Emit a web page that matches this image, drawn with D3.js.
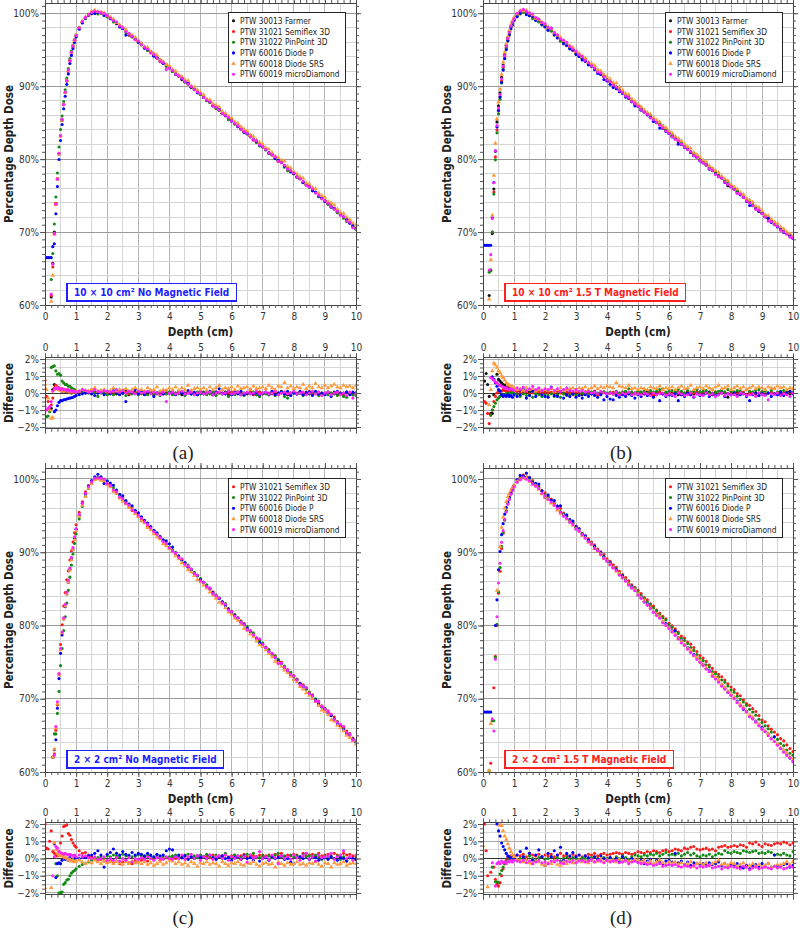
<!DOCTYPE html>
<html><head><meta charset="utf-8">
<script src="https://cdn.jsdelivr.net/npm/d3@7"></script>
<style>body{margin:0;background:#fff} svg{display:block}</style>
</head><body><svg id="c" width="800" height="933"></svg>
<script>
// ---------------- DATA ----------------
const depth = [0,.05,.1,.15,.2,.25,.3,.35,.4,.45,.5,.55,.6,.65,.7,.75,.8,.85,.9,.95,1,
1.1,1.2,1.3,1.4,1.5,1.6,1.7,1.8,1.9,2,
2.1,2.2,2.3,2.4,2.5,2.6,2.7,2.8,2.9,3,
3.1,3.2,3.3,3.4,3.5,3.6,3.7,3.8,3.9,4,
4.1,4.2,4.3,4.4,4.5,4.6,4.7,4.8,4.9,5,
5.1,5.2,5.3,5.4,5.5,5.6,5.7,5.8,5.9,6,
6.1,6.2,6.3,6.4,6.5,6.6,6.7,6.8,6.9,7,
7.1,7.2,7.3,7.4,7.5,7.6,7.7,7.8,7.9,8,
8.1,8.2,8.3,8.4,8.5,8.6,8.7,8.8,8.9,9,
9.1,9.2,9.3,9.4,9.5,9.6,9.7,9.8,9.9,10];

const detectorNames = ["PTW 30013 Farmer","PTW 31021 Semiflex 3D","PTW 31022 PinPoint 3D","PTW 60016 Diode P","PTW 60018 Diode SRS","PTW 60019 microDiamond"];
const xTicks = [0,1,2,3,4,5,6,7,8,9,10];
const yTicksPdd = [60,70,80,90,100];
const yTicksDiff = [-2,-1,0,1,2];
const panelTitles = ["10 × 10 cm² No Magnetic Field","10 × 10 cm² 1.5 T Magnetic Field","2 × 2 cm² No Magnetic Field","2 × 2 cm² 1.5 T Magnetic Field"];
const panelLetters = ["(a)","(b)","(c)","(d)"];

// reference PDD (%) per panel
const pddBaseA = [55,56,57,58.5,62,65.5,69.5,73.5,77,80.5,83,85.2,87.3,89,90.6,92,93.4,94.5,95.4,96.2,96.9,
97.9,98.7,99.3,99.7,100,100.1,100.1,100,99.8,99.6,
99.3,98.9,98.6,98.2,97.9,97.5,97.1,96.8,96.4,96.1,
95.7,95.3,95,94.6,94.3,93.9,93.5,93.2,92.8,92.5,
92.1,91.7,91.4,91,90.7,90.3,89.9,89.6,89.2,88.9,
88.5,88.1,87.8,87.4,87.1,86.7,86.3,86,85.6,85.3,
84.9,84.5,84.2,83.8,83.5,83.1,82.7,82.4,82,81.7,
81.3,80.9,80.6,80.2,79.8,79.5,79.1,78.7,78.4,78,
77.6,77.3,76.9,76.5,76.2,75.8,75.4,75,74.7,74.3,
73.9,73.6,73.2,72.8,72.4,72.1,71.7,71.3,70.9,70.5];
const pddBaseB = [56,57,58,59,61.5,66,71,76,80.5,84,86.5,88.4,90.6,92.4,93.9,95.2,96.3,97.2,98,98.6,99.1,
99.7,100.1,100.2,100.1,99.8,99.5,99.2,98.9,98.6,98.3,
97.9,97.6,97.2,96.8,96.4,96.1,95.7,95.3,95,94.6,
94.2,93.9,93.5,93.1,92.8,92.4,92,91.7,91.3,90.9,
90.6,90.2,89.8,89.5,89.1,88.7,88.4,88,87.6,87.3,
86.9,86.5,86.2,85.8,85.4,85.1,84.7,84.3,84,83.6,
83.2,82.9,82.5,82.1,81.8,81.4,81,80.7,80.3,79.9,
79.6,79.2,78.8,78.5,78.1,77.7,77.4,77,76.6,76.3,
75.9,75.5,75.2,74.8,74.4,74.1,73.7,73.3,73,72.6,
72.2,71.9,71.5,71.1,70.8,70.4,70.1,69.8,69.5,69.2];
const pddBaseC = [50,51,52,54,56,59,62.2,65.5,69,73,76.5,78.8,80.8,82.6,84.3,86,87.6,89.1,90.5,91.9,93.1,
95,96.6,97.9,98.9,99.6,100,100.2,100.1,99.9,99.5,
99.1,98.6,98.2,97.7,97.3,96.8,96.4,96,95.5,95.1,
94.6,94.2,93.7,93.3,92.9,92.4,92,91.5,91.1,90.6,
90.2,89.8,89.3,88.9,88.4,88,87.5,87.1,86.7,86.2,
85.8,85.3,84.9,84.4,84,83.6,83.1,82.7,82.2,81.8,
81.3,80.9,80.5,80,79.6,79.1,78.7,78.2,77.8,77.4,
76.9,76.5,76,75.6,75.1,74.7,74.3,73.8,73.4,72.9,
72.5,72,71.6,71.2,70.7,70.3,69.8,69.4,68.9,68.5,
68.1,67.6,67.2,66.7,66.3,65.8,65.4,65,64.5,64.1];
const pddBaseD = [50,51,52,54,57,62,67.5,72,77,81.5,86,88.8,91.5,93.2,94.7,95.8,96.7,97.4,98,98.6,99,
99.7,100.1,100.3,100.2,99.9,99.6,99.2,98.8,98.3,97.9,
97.5,97,96.6,96.1,95.7,95.2,94.8,94.3,93.9,93.4,
93,92.5,92.1,91.6,91.2,90.7,90.3,89.8,89.4,88.9,
88.5,88,87.6,87.1,86.7,86.2,85.8,85.3,84.9,84.4,
84,83.5,83.1,82.6,82.2,81.7,81.3,80.8,80.4,79.9,
79.5,79,78.6,78.1,77.7,77.2,76.8,76.3,75.9,75.4,
75,74.5,74.1,73.6,73.2,72.7,72.3,71.8,71.4,70.9,
70.5,70,69.6,69.1,68.7,68.2,67.8,67.3,66.9,66.4,
66,65.5,65.1,64.6,64.2,63.7,63.3,62.8,62.4,61.9];

// detector difference (%) from reference; null = not on the picture
const diffA_30013 = [null,null,null,null,-.9,.2,.5,.4,.3,.2,.2,.1,.15,.1,.1,.05,.1,0,.05,.1,0,
.1,.05,.1,0,.15,.1,0,.05,.1,-.05,
0,.1,-.05,.05,0,.1,-.1,0,.05,-.05,
.05,-.05,0,.1,-.1,0,.05,-.05,0,.05,
-.05,0,.05,-.1,0,.05,-.05,0,-.1,0,
.05,-.05,0,-.1,.05,0,-.05,.05,-.1,0,
-.05,.05,-.1,0,-.05,.05,0,-.1,.05,-.05,
0,-.1,.05,-.05,0,.1,-.05,-.1,0,.05,
-.05,0,-.1,.05,-.05,0,.05,-.1,0,-.05,
0,-.05,.05,-.1,0,-.05,.05,0,-.1,0];
const diffA_31021 = [.75,-.2,-.5,-1,-.7,-.3,.3,.45,.35,.3,.2,.25,.2,.15,.2,.1,.15,.1,.05,.1,.05,
.1,.15,.05,.1,.2,.1,.05,.15,.1,0,
.1,.05,.15,0,.1,.05,-.05,.1,0,.05,
0,.05,-.05,.05,0,-.05,.05,0,-.05,0,
.05,-.05,0,.05,-.1,0,.05,-.05,0,.05,
0,-.05,.05,0,-.1,.05,0,-.05,0,.05,
-.05,0,.05,-.05,0,.05,-.1,0,.05,0,
.05,0,-.05,.05,-.1,0,.05,0,-.05,.05,
0,.05,-.05,0,.1,-.05,0,.05,-.1,0,
.05,0,-.05,.05,0,-.1,.05,0,-.05,0];
const diffA_31022 = [-1.4,-1.4,-1.35,-1.1,1.5,1.55,1.6,1.3,1.1,1.15,1.05,.7,.6,.5,.5,.4,.4,.3,.25,.2,.15,
.1,.05,0,.1,-.05,.05,-.2,0,.05,-.1,
0,-.1,.05,-.05,0,-.15,.05,-.05,0,-.1,
-.05,0,-.1,.05,-.05,0,-.15,0,-.05,.05,
-.1,0,-.05,.05,-.15,0,-.05,-.1,.05,-.05,
0,-.1,-.05,.05,-.15,0,-.05,0,-.2,-.05,
-.1,.05,-.05,-.15,0,-.05,.05,-.1,-.2,0,
-.05,-.1,0,-.15,-.05,.05,-.2,-.3,-.1,0,
-.05,0,-.15,-.05,.05,-.1,0,-.15,-.05,0,
-.1,0,-.05,-.15,0,-.2,-.25,-.05,-.1,-.15];
const diffA_60016 = [11.5,10.5,9.5,8,4.5,2.5,-1.1,-1,-.75,-.55,-.45,-.45,-.4,-.38,-.35,-.32,-.3,-.28,-.25,-.2,-.15,
-.1,-.05,0,.1,-.05,-.15,0,.05,-.1,.1,
-.05,.15,.05,-.1,0,-.5,.1,.05,.2,-.05,
.1,-.1,.05,.15,-.2,0,.1,-.05,.15,0,
.05,-.1,.1,0,-.05,.15,-.05,.05,-.1,.1,
-.05,.05,.1,-.1,.05,.25,0,-.05,.1,-.1,
.05,-.05,.1,-.1,0,.2,-.05,.05,-.1,0,
.05,-.05,.1,-.1,0,.05,-.05,.1,-.15,0,
-.05,.1,-.1,0,.05,-.15,.1,-.05,0,-.1,
.05,-.2,0,.1,-.05,0,.05,-.1,.05,0];
const diffA_60018 = [.5,.2,-.3,-1,-1.5,-1.45,.2,.3,.25,.2,.15,.1,.2,.1,.15,.1,.05,.1,.1,.05,.1,
.1,.2,.15,.1,.2,.3,.1,.15,.2,.1,
.15,.3,.1,.2,.15,.25,.1,.2,.3,.15,
.2,.1,.3,.15,.2,.35,.1,.2,.15,.3,
.2,.35,.15,.3,.2,.45,.15,.25,.3,.2,
.3,.15,.35,.2,.3,.45,.2,.3,.25,.35,
.2,.4,.25,.3,.35,.2,.4,.25,.3,.35,
.25,.45,.3,.2,.4,.35,.6,.3,.4,.25,
.35,.3,.5,.25,.4,.3,.55,.35,.3,.45,
.3,.4,.5,.35,.3,.45,.35,.4,.3,.45];
const diffA_60019 = [-.8,-1,-.9,-.8,-.5,.1,.25,.3,.25,.3,.2,.25,.2,.2,.15,.2,.1,.15,.1,.1,.05,
.1,.2,.15,.05,.1,.2,.1,.05,.15,.1,
.05,.1,.2,.05,.15,0,.1,.05,-.05,.1,
0,.05,.1,-.05,.05,0,-.1,.05,-.5,0,
.05,-.05,0,.1,-.05,0,.05,-.1,0,.05,
-.05,0,.05,-.1,0,.05,-.05,0,.1,-.05,
0,.05,-.1,0,.05,-.05,0,.1,-.05,0,
.05,-.05,0,.1,-.1,0,.05,-.05,0,.1,
-.05,0,.05,-.1,0,.1,-.05,.05,-.15,0,
.05,-.1,0,.05,-.1,0,-.15,.05,-.3,-.05];

const diffB_30013 = [1,.7,1.15,.5,-.2,-1.2,-1.2,-.1,.6,1.1,.8,.7,.6,.5,.45,.4,.35,.3,.25,.2,.15,
.1,.15,.2,.1,.05,.15,.1,0,.1,.05,
.05,0,.1,-.05,.05,0,-.1,.05,0,-.05,
0,-.1,.05,0,-.05,.1,-.1,0,.05,-.05,
0,-.05,.05,-.1,0,.05,-.05,-.1,0,.05,
-.05,0,.05,-.1,-.2,0,.05,-.05,0,-.1,
0,.05,-.1,0,-.05,.05,-.1,-.05,0,.05,
-.05,0,.05,-.1,0,-.05,.05,0,-.25,-.05,
0,.05,-.05,0,-.1,.05,-.05,0,-.15,.05,
-.1,0,.05,-.05,0,-.1,0,.05,-.05,0];
const diffB_31021 = [null,-.5,-.6,-1.2,-1.8,-1.3,-1,-.5,-.2,0,.1,.15,.1,.2,.15,.1,.15,.1,.1,.05,.1,
.1,0,.05,.1,-.05,0,.1,.05,-.05,.05,
0,.05,-.05,.1,0,-.05,.05,0,-.1,.05,
-.05,0,.05,-.05,0,.05,-.1,0,.05,-.05,
0,.05,-.05,0,.05,-.1,0,.05,-.05,0,
.05,-.05,0,.05,-.1,0,.05,-.05,0,.05,
-.05,0,.05,-.1,0,.05,-.05,0,.05,-.05,
0,.05,-.05,0,.05,-.1,0,.05,-.05,0,
.05,-.05,0,.05,-.1,0,.05,-.05,0,.05,
-.05,0,.05,-.05,0,.05,-.05,0,.05,0];
const diffB_31022 = [null,null,null,null,3,-1.3,-1,-.8,-.6,-.4,-.3,-.2,-.15,-.1,-.1,-.05,0,-.05,0,.05,0,
-.1,-.2,-.05,-.15,-.1,-.25,-.05,-.1,-.2,-.1,
-.15,-.05,-.2,-.1,-.25,-.05,-.15,-.1,-.05,-.15,
-.1,0,-.05,-.1,.05,-.05,0,-.1,.05,0,
.05,-.05,.1,0,.05,.1,.25,.05,0,.1,
.05,.1,0,.15,.05,.1,.2,.25,.05,.1,
.15,.05,.2,.1,0,.15,.05,.1,.2,.05,
.1,.15,0,.2,.05,.1,.15,.05,.2,.1,
.05,.15,.1,0,.2,.1,.05,.15,.2,.05,
.1,0,.15,.25,.05,.1,.15,0,.1,.05];
const diffB_60016 = [12.2,11.2,10.2,9.2,6.7,2.2,.95,.8,.6,.4,.2,.1,-.1,-.2,-.15,-.2,-.1,-.2,-.15,-.25,-.1,
-.2,-.1,.2,-.3,-.15,.1,-.2,.25,-.1,-.2,
-.25,.35,-.15,-.2,.1,-.3,-.1,-.2,-.05,-.25,
-.15,-.3,-.1,-.2,-.05,-.15,-.25,-.1,-.4,-.2,
-.35,-.4,-.15,-.25,-.1,-.2,-.05,-.15,-.3,-.1,
-.2,-.05,-.15,-.1,-.25,-.1,-.45,-.05,-.2,-.1,
-.15,-.05,-.45,-.1,-.2,0,-.1,-.25,-.05,-.15,
-.1,0,-.2,-.05,-.15,-.1,0,-.2,-.05,-.1,
0,-.15,-.1,-.05,-.2,-.45,-.1,0,-.15,-.05,
-.1,0,-.2,-.05,-.1,.05,-.15,0,.1,-.05];
const diffB_60018 = [null,null,null,null,-.7,.2,1.3,1.75,1.65,1.5,1.3,1.2,1,.9,.75,.6,.5,.45,.4,.35,.3,
.2,.25,.15,.3,.2,.25,.1,.2,.15,.2,
.15,.25,.1,.2,.3,.15,.2,.25,.3,.15,
.3,.25,.35,.2,.3,.4,.25,.35,.3,.4,
.35,.3,.6,.4,.35,.3,.45,.25,.3,.2,
.3,.25,.2,.35,.3,.25,.4,.2,.3,.25,
.35,.2,.3,.4,.25,.3,.45,.2,.3,.35,
.25,.4,.3,.2,.35,.45,.25,.3,.4,.2,
.3,.4,.25,.35,.2,.3,.4,.25,.35,.3,
.2,.35,.3,.25,.4,.3,.35,.2,.3,.25];
const diffB_60019 = [null,null,null,null,3.3,.9,.85,.75,.65,.6,.5,.45,.4,.35,.3,.3,.25,.2,.25,.2,.15,
.3,.2,.35,.15,.25,.4,.2,.3,.15,.25,
.2,.3,.15,.25,.1,.2,.3,.15,.1,.2,
.1,.15,.05,.1,0,.05,-.05,.1,0,-.05,
0,-.05,.05,-.1,0,-.05,.05,-.1,0,-.05,
-.1,0,-.05,-.15,0,-.1,-.05,0,-.15,-.05,
-.1,-.2,0,-.05,-.15,-.1,0,-.2,-.05,-.1,
-.15,0,-.1,-.05,-.2,-.1,0,-.15,-.05,-.1,
-.1,-.2,0,-.05,-.15,-.1,-.05,-.2,0,-.1,
-.15,-.4,-.05,-.1,0,-.15,-.05,-.1,-.2,0];

const diffC_31021 = [2,.6,.55,1,1.6,.4,.3,.2,.15,.4,.9,1.3,1.85,1.9,1.95,1.45,1.35,1.1,.9,.75,.65,
.45,.3,.35,.2,.1,0,-.1,-.05,-.15,-.2,
-.1,-.25,-.15,-.3,-.2,-.1,-.25,-.3,-.15,-.2,
-.1,-.05,-.15,0,-.05,.05,-.1,0,.05,-.05,
.05,0,.1,.05,.15,0,.1,.05,.15,.1,
.1,.15,.05,.2,.1,.15,.05,.2,.1,.15,
.2,.1,.15,.25,.1,.2,.15,.05,.2,.1,
.15,.2,.1,.25,.15,.3,.1,.2,.15,.25,
.2,.1,.3,.15,.2,.25,.1,.3,.15,.2,
.25,.15,.3,.2,.1,.3,.2,.25,.15,.1];
const diffC_31022 = [0,null,null,null,null,3,3,-.3,-1,-2,-1.98,-1.95,-1.5,-1.4,-1.25,-1.2,-1,-.85,-.75,-.7,-.6,
-.45,-.35,-.3,-.2,-.1,0,.05,.1,0,.15,
.1,.2,.15,.1,.25,.15,.2,.1,.15,.2,
.15,.1,.2,.15,.05,.2,.1,.15,.05,.1,
.15,.2,.1,.05,.2,.25,.1,.15,.05,.2,
.1,.25,.15,.05,.2,.1,.15,.3,.05,.1,
.2,.15,.05,.1,.25,.15,.3,.1,.05,.2,
.1,.15,.05,.2,.3,.1,.15,.05,.2,.1,
.15,.05,.2,.1,.15,.05,.2,.1,-.05,.15,
.05,.1,0,.15,-.05,.1,-.1,.05,0,-.05];
const diffC_60016 = [null,null,null,null,null,3,.85,-1.1,-.3,-.25,-.3,-.1,.1,-.05,0,-.1,.05,-.05,-.1,0,.05,
0,.1,.05,.15,.2,.3,.45,.2,-.5,.25,
.35,.55,.3,.2,.4,.25,.15,.35,.2,.3,
.25,.15,.3,.2,.1,.25,.15,.2,.45,.55,
.5,.1,.2,.05,.15,-.05,.1,0,.15,.05,
.1,0,.2,.05,-.05,.1,.15,0,.05,-.1,
.05,.1,-.05,.15,0,.05,-.1,.1,-.15,0,
.05,-.1,.1,0,.05,.15,-.05,0,-.2,-.3,
.05,.1,0,.3,-.05,.1,.05,-.1,0,.05,
-.05,.1,0,-.1,.05,0,-.15,.05,0,-.05];
const diffC_60018 = [-1.7,null,null,null,-1.7,3,.9,.5,.3,.2,.15,.2,.1,.05,0,-.1,-.05,-.15,-.1,-.2,-.15,
-.1,-.2,-.3,-.15,-.25,-.1,-.2,-.3,-.15,-.25,
-.2,-.3,-.15,-.25,-.35,-.2,-.3,-.15,-.25,-.2,
-.3,-.2,-.35,-.25,-.4,-.3,-.2,-.35,-.25,-.1,
-.15,-.3,-.2,-.35,-.25,-.4,-.2,-.3,-.45,-.25,
-.3,-.2,-.35,-.25,-.3,-.45,-.2,-.3,-.4,-.25,
-.3,-.2,-.35,-.4,-.25,-.3,-.2,-.35,-.45,-.3,
-.25,-.35,-.3,-.5,-.2,-.3,-.4,-.25,-.35,-.3,
-.2,-.35,-.3,-.4,-.25,-.3,-.2,-.35,-.45,-.25,
-.3,-.5,-.25,-.35,-.3,-.2,-.4,-.3,-.25,-.3];
const diffC_60019 = [null,null,null,null,null,-1,.1,.7,.6,.4,.35,.3,.25,.3,.25,.2,.25,.2,.15,.2,.1,
.2,.1,.15,.05,0,.1,-.05,0,.1,-.1,
0,-.1,.05,-.15,0,-.1,.05,-.2,0,-.05,
.05,-.05,.1,0,-.1,.05,0,-.05,.1,0,
-.05,.1,0,.2,-.05,.1,.25,0,.15,-.1,
.1,0,.2,-.05,.1,.15,0,.2,-.1,.1,
0,.15,-.05,.1,-.2,.2,.05,.1,.4,0,
.1,-.05,.2,.05,-.3,.15,0,.1,-.05,.2,
.05,-.1,.15,.3,0,.1,-.15,.2,.05,.1,
.15,.3,-.05,.1,.2,.45,0,.1,-.1,.2];

const diffD_31021 = [null,2,.45,-1,null,-.8,null,-.5,-1.2,-1.5,-1.6,-1.4,-1,-.6,-.3,-.1,.05,.1,.15,.1,.15,
.2,.15,.25,.1,.3,.2,.15,.25,.1,.2,
.15,.25,.1,.2,.3,.15,.2,.1,.25,.15,
.2,.1,.15,.25,.2,.3,.15,.25,.3,.2,
.25,.3,.35,.3,.25,.35,.3,.25,.3,.4,
.35,.3,.4,.35,.45,.4,.35,.45,.5,.4,
.45,.55,.5,.45,.6,.55,.65,.7,.55,.5,
.55,.6,.5,.55,.45,.65,.7,.75,.65,.7,
.75,.7,.8,.75,.65,.9,.85,.95,.8,.7,
.85,.8,.75,.85,.9,.85,.95,.9,.8,.9];
const diffD_31022 = [null,null,null,null,3.2,null,-.5,-5,-1.35,-1.35,-1.4,-.9,-.7,-.5,-.3,-.2,-.1,0,.05,0,.1,
-.1,0,.1,-.05,.15,0,-.1,.05,.1,-.05,
0,.1,-.1,.05,-.15,0,.1,-.05,.05,0,
-.05,.05,0,-.1,.05,.1,0,-.05,.05,0,
.05,-.05,.1,0,.15,.05,-.05,.1,.2,.15,
.1,.2,.15,.25,.2,.3,.15,.25,.35,.2,
.25,.2,.3,.15,.25,.35,.2,.3,.15,.1,
.2,.15,.25,.1,.2,.3,.25,.45,.35,.3,
.4,.35,.3,.45,.4,.35,.4,.45,.3,.35,
.3,.4,.35,.2,.25,.2,.3,.2,.15,.4];
const diffD_60016 = [18.2,17.2,16.2,14.2,11.2,6.2,null,null,3,2,1.6,1.3,.9,.7,.5,.3,.15,.1,0,.1,.05,
.2,.4,.1,.6,.3,-.1,.2,.5,.1,-.4,
.3,.1,.45,.2,.65,-.1,.3,.15,.35,.1,
.2,-.1,.15,.05,-.1,.1,-.05,.15,0,-.1,
.05,-.1,0,-.15,.1,-.05,-.2,0,-.1,-.2,
-.1,-.3,-.15,-.05,-.35,-.1,-.2,-.3,-.15,-.1,
-.2,.3,-.25,-.15,-.35,-.2,-.4,-.25,-.3,-.35,
-.3,-.4,-.25,-.35,-.3,-.2,-.4,-.3,-.5,-.35,
-.4,-.3,-.5,-.55,-.4,-.6,-.45,-.35,-.5,-.3,
-.45,-.3,-.5,.2,-.4,-.45,-.35,-.3,-.5,-.4];
const diffD_60018 = [.75,null,null,-1.65,3.2,4.6,null,null,null,3.3,null,1.95,1.9,1.6,1.3,1.1,.85,.6,.4,.2,.1,
-.05,-.15,-.2,-.1,-.25,-.3,-.15,-.2,-.35,-.4,
-.25,-.3,-.15,-.35,-.4,-.2,-.3,-.15,-.25,-.2,
-.1,-.2,-.15,-.25,-.1,-.2,-.15,-.05,-.2,-.1,
-.15,-.1,-.2,-.05,-.15,-.1,-.2,-.15,-.05,-.1,
-.2,-.1,-.25,-.15,-.3,-.2,-.1,-.25,-.35,-.2,
-.3,-.2,-.35,-.25,-.4,-.3,-.2,-.45,-.3,-.25,
-.35,-.25,-.4,-.3,-.2,-.1,-.35,-.3,-.4,-.25,
-.3,-.45,-.35,-.25,-.5,-.4,-.3,-.45,-.35,-.5,
-.4,-.3,-.5,-.45,-.35,-.4,-.3,-.2,-.35,-.2];
const diffD_60019 = [null,null,null,null,null,null,-.25,-6.4,-1.6,-.3,-.2,-.3,-.15,-.25,-.2,-.3,-.15,-.2,-.1,-.2,-.1,
-.15,-.2,-.1,-.25,-.15,-.3,-.2,-.1,-.25,-.2,
-.3,-.15,-.2,-.1,-.25,-.3,-.15,-.2,-.1,-.25,
-.15,-.1,-.2,-.15,-.05,-.2,-.1,-.15,-.25,-.1,
-.2,-.15,-.1,-.25,-.2,-.15,-.3,-.2,-.15,-.25,
-.3,-.25,-.35,-.3,-.4,-.35,-.3,-.45,-.4,-.35,
-.4,-.35,-.45,-.5,-.4,-.45,-.5,-.4,-.55,-.45,
-.5,-.45,-.4,-.55,-.5,-.45,-.6,-.5,-.55,-.45,
-.5,-.55,-.6,-.45,-.5,-.65,-.55,-.5,-.6,-.55,
-.5,-.55,-.6,-.45,-.55,-.5,-.6,-.55,-.45,-.5];

// ---------------- DRAWING ----------------
const FONT = '"DejaVu Sans Condensed","DejaVu Sans",sans-serif';
const COLORS = ["#111111","#ff1a1a","#138a13","#0000ff","#ff9a3c","#ff22ff"];
const svg = d3.select("#c");

const panels = [
  {x0:45, x1:356, mt:3, mb:305, yTop:101.4, dt:357.3, db:428.7, base:pddBaseA,
   dets:[0,1,2,3,4,5], diffs:[diffA_30013,diffA_31021,diffA_31022,diffA_60016,diffA_60018,diffA_60019],
   tcolor:"#1f1fff", lx:183, ly:459},
  {x0:483, x1:793, mt:3, mb:305, yTop:101.4, dt:357.3, db:428.7, base:pddBaseB,
   dets:[0,1,2,3,4,5], diffs:[diffB_30013,diffB_31021,diffB_31022,diffB_60016,diffB_60018,diffB_60019],
   tcolor:"#ff2020", lx:621, ly:459},
  {x0:45, x1:356, mt:468, mb:772, yTop:101.5, dt:822.3, db:894.7, base:pddBaseC,
   dets:[1,2,3,4,5], diffs:[diffC_31021,diffC_31022,diffC_60016,diffC_60018,diffC_60019],
   tcolor:"#1f1fff", lx:183, ly:924},
  {x0:483, x1:793, mt:468, mb:772, yTop:101.5, dt:822.3, db:894.7, base:pddBaseD,
   dets:[1,2,3,4,5], diffs:[diffD_31021,diffD_31022,diffD_60016,diffD_60018,diffD_60019],
   tcolor:"#ff2020", lx:621, ly:924}
];

const defs = svg.append("defs");
const tri = d3.symbol().type(d3.symbolTriangle).size(9);

function marker(g, det, cx, cy) {
  if (det === 4) {
    g.append("path").attr("d", tri).attr("transform", `translate(${cx},${cy})`).attr("fill", COLORS[det]);
  } else {
    g.append("circle").attr("cx", cx).attr("cy", cy).attr("r", 1.55).attr("fill", COLORS[det]);
  }
}

function styleAxis(g) {
  g.select(".domain").remove();
  g.attr("font-family", FONT).attr("font-size", 10);
  g.selectAll("line").attr("stroke", "#555");
  g.selectAll("text").attr("fill", "#333");
}

function axis(root, gen, tr, vals, size, fmt, pad) {
  const a = gen.tickValues(vals).tickSize(size).tickSizeOuter(0).tickPadding(pad == null ? 2 : pad)
    .tickFormat(fmt || (() => ""));
  const g = root.append("g").attr("transform", tr).call(a);
  styleAxis(g);
  return g;
}

const pct = d => d3.format("d")(d) + "%";
const minorX = d3.range(0, 51).map(i => +(i * 0.2).toFixed(2));

panels.forEach((p, pi) => {
  const root = svg.append("g");
  const x = d3.scaleLinear().domain([0, 10]).range([p.x0, p.x1]);
  const y = d3.scaleLinear().domain([60, p.yTop]).range([p.mb, p.mt]);
  const yd = d3.scaleLinear().domain([-2.1, 2.1]).range([p.db, p.dt]);
  const W = p.x1 - p.x0;

  // clips
  defs.append("clipPath").attr("id", "cm" + pi).append("rect")
    .attr("x", p.x0).attr("y", p.mt).attr("width", W).attr("height", p.mb - p.mt);
  defs.append("clipPath").attr("id", "cd" + pi).append("rect")
    .attr("x", p.x0).attr("y", p.dt).attr("width", W).attr("height", p.db - p.dt);

  // backgrounds
  root.append("rect").attr("x", p.x0).attr("y", p.mt).attr("width", W).attr("height", p.mb - p.mt).attr("fill", "#fff");
  root.append("rect").attr("x", p.x0).attr("y", p.dt).attr("width", W).attr("height", p.db - p.dt).attr("fill", "#fff");

  // main grid
  const gx = d3.range(1, 20).map(i => i * 0.5);
  const gm = root.append("g");
  gx.forEach(v => gm.append("line").attr("x1", x(v)).attr("x2", x(v)).attr("y1", p.mt).attr("y2", p.mb)
    .attr("stroke", v % 1 === 0 ? "#b4b4b4" : "#d4d4d4").attr("stroke-width", 1).attr("shape-rendering", "crispEdges"));
  d3.range(62, 101.1, 2).forEach(v => gm.append("line").attr("x1", p.x0).attr("x2", p.x1).attr("y1", y(v)).attr("y2", y(v))
    .attr("stroke", v % 10 === 0 ? "#9a9a9a" : "#d4d4d4").attr("shape-rendering", "crispEdges"));
  // diff grid
  gx.forEach(v => gm.append("line").attr("x1", x(v)).attr("x2", x(v)).attr("y1", p.dt).attr("y2", p.db)
    .attr("stroke", v % 1 === 0 ? "#b4b4b4" : "#d4d4d4").attr("shape-rendering", "crispEdges"));
  [-2, -1.5, -1, -0.5, 0.5, 1, 1.5, 2].forEach(v => gm.append("line").attr("x1", p.x0).attr("x2", p.x1).attr("y1", yd(v)).attr("y2", yd(v))
    .attr("stroke", v % 1 === 0 ? "#a8a8a8" : "#d4d4d4").attr("shape-rendering", "crispEdges"));
  gm.append("line").attr("x1", p.x0).attr("x2", p.x1).attr("y1", yd(0)).attr("y2", yd(0))
    .attr("stroke", "#333").attr("shape-rendering", "crispEdges");

  // points
  const gp = root.append("g").attr("clip-path", `url(#cm${pi})`);
  const gq = root.append("g").attr("clip-path", `url(#cd${pi})`);
  p.dets.forEach((det, k) => {
    const arr = p.diffs[k];
    depth.forEach((dv, i) => {
      const v = arr[i];
      if (v == null) return;
      const val = p.base[i] + v;
      if (val >= 59.7 && val <= p.yTop + 0.3) marker(gp, det, x(dv), y(val));
      if (Math.abs(v) <= 2.05) marker(gq, det, x(dv), yd(v));
    });
  });

  // frames
  [[p.mt, p.mb], [p.dt, p.db]].forEach(([t, b]) => root.append("rect").attr("x", p.x0).attr("y", t)
    .attr("width", W).attr("height", b - t).attr("fill", "none").attr("stroke", "#444").attr("shape-rendering", "crispEdges"));

  // main axes
  axis(root, d3.axisBottom(x), `translate(0,${p.mb})`, minorX, 3);
  axis(root, d3.axisBottom(x), `translate(0,${p.mb})`, xTicks, 5, d3.format("d"), 3);
  axis(root, d3.axisTop(x), `translate(0,${p.mt})`, minorX, 3);
  axis(root, d3.axisTop(x), `translate(0,${p.mt})`, xTicks, 5);
  const minorY = d3.range(60, 102, 1);
  axis(root, d3.axisLeft(y), `translate(${p.x0},0)`, minorY, 3);
  axis(root, d3.axisLeft(y), `translate(${p.x0},0)`, yTicksPdd, 5, pct, 1);
  axis(root, d3.axisRight(y), `translate(${p.x1},0)`, minorY, 3);
  axis(root, d3.axisRight(y), `translate(${p.x1},0)`, yTicksPdd, 5);

  // diff axes
  axis(root, d3.axisTop(x), `translate(0,${p.dt})`, minorX, 3);
  axis(root, d3.axisTop(x), `translate(0,${p.dt})`, xTicks, 4, d3.format("d"), 2);
  axis(root, d3.axisBottom(x), `translate(0,${p.db})`, minorX, 3);
  axis(root, d3.axisBottom(x), `translate(0,${p.db})`, xTicks, 5);
  const minorD = d3.range(-8, 9).map(i => i * 0.25);
  axis(root, d3.axisLeft(yd), `translate(${p.x0},0)`, minorD, 3);
  axis(root, d3.axisLeft(yd), `translate(${p.x0},0)`, yTicksDiff, 5, pct, 1);
  axis(root, d3.axisRight(yd), `translate(${p.x1},0)`, minorD, 3);
  axis(root, d3.axisRight(yd), `translate(${p.x1},0)`, yTicksDiff, 5);

  // titles
  root.append("text").attr("x", (p.x0 + p.x1) / 2).attr("y", p.mb + 31).attr("text-anchor", "middle")
    .attr("font-family", FONT).attr("font-weight", "bold").attr("font-size", 11.5).attr("fill", "#222").text("Depth (cm)");
  root.append("text").attr("transform", `translate(${p.x0 - 32},${(p.mt + p.mb) / 2}) rotate(-90)`).attr("text-anchor", "middle")
    .attr("font-family", FONT).attr("font-weight", "bold").attr("font-size", 11.5).attr("fill", "#222").text("Percentage Depth Dose");
  root.append("text").attr("transform", `translate(${p.x0 - 32},${(p.dt + p.db) / 2}) rotate(-90)`).attr("text-anchor", "middle")
    .attr("font-family", FONT).attr("font-weight", "bold").attr("font-size", 11.5).attr("fill", "#222").text("Difference");

  // legend
  const n = p.dets.length;
  const lgL = p.x1 - 128, lgT = p.mt + (pi < 2 ? 9.3 : 10.3);
  const lg = root.append("g");
  lg.append("rect").attr("x", lgL).attr("y", lgT).attr("width", 117).attr("height", n * 10.7 + 6)
    .attr("fill", "#fff").attr("stroke", "#222").attr("shape-rendering", "crispEdges");
  p.dets.forEach((det, k) => {
    const ry = lgT + 8.5 + k * 10.7;
    marker(lg, det, lgL + 5.5, ry);
    lg.append("text").attr("x", lgL + 12).attr("y", ry + 3).attr("font-family", FONT).attr("font-size", 8.3)
      .attr("fill", "#222").text(detectorNames[det]);
  });

  // field label box
  const bx = p.x0 + 22, bb = p.mb - 4;
  const bt = root.append("text").attr("x", bx + 7).attr("y", bb - 5).attr("font-family", FONT)
    .attr("font-weight", "bold").attr("font-size", 10).attr("fill", p.tcolor).text(panelTitles[pi]);
  const tw = bt.node().getComputedTextLength();
  root.insert("rect", () => bt.node()).attr("x", bx).attr("y", bb - 17.5).attr("width", tw + 14).attr("height", 17.5)
    .attr("fill", "#fff").attr("stroke", p.tcolor).attr("stroke-width", 1.2).attr("shape-rendering", "crispEdges");

  // panel letter
  root.append("text").attr("x", p.lx).attr("y", p.ly).attr("text-anchor", "middle")
    .attr("font-family", '"Liberation Serif","Times New Roman",serif').attr("font-size", 19).attr("fill", "#222")
    .text(panelLetters[pi]);
});
</script></body></html>
